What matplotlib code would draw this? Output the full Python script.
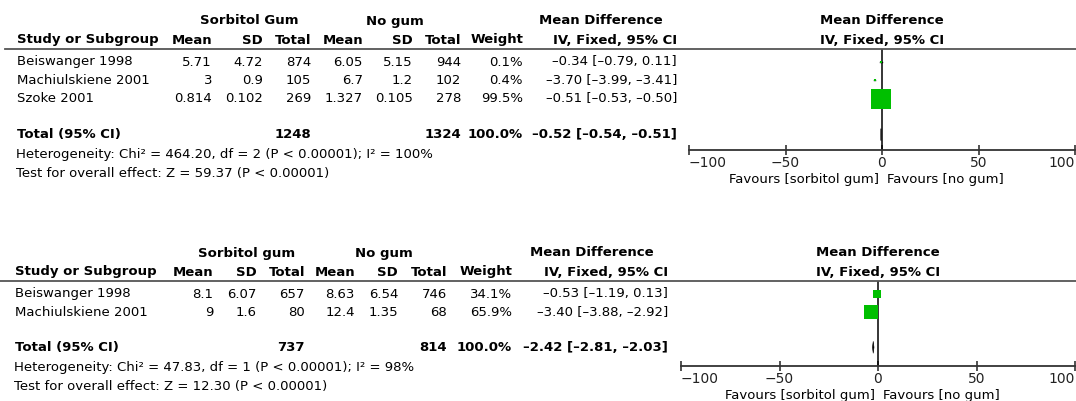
import matplotlib
matplotlib.use("Agg")
import matplotlib.pyplot as plt

# ---- data: analysis 1 ----
studies1 = ["Beiswanger 1998", "Machiulskiene 2001", "Szoke 2001"]
sorb_mean1 = ["5.71", "3", "0.814"]
sorb_sd1 = ["4.72", "0.9", "0.102"]
sorb_n1 = [874, 105, 269]
nogum_mean1 = ["6.05", "6.7", "1.327"]
nogum_sd1 = ["5.15", "1.2", "0.105"]
nogum_n1 = [944, 102, 278]
weight1 = [0.1, 0.4, 99.5]
md1 = [-0.34, -3.70, -0.51]
lo1 = [-0.79, -3.99, -0.53]
hi1 = [0.11, -3.41, -0.50]
total1 = (-0.52, -0.54, -0.51)
het1 = "Heterogeneity: Chi\u00b2 = 464.20, df = 2 (P < 0.00001); I\u00b2 = 100%"
test1 = "Test for overall effect: Z = 59.37 (P < 0.00001)"

# ---- data: analysis 2 ----
studies2 = ["Beiswanger 1998", "Machiulskiene 2001"]
sorb_mean2 = ["8.1", "9"]
sorb_sd2 = ["6.07", "1.6"]
sorb_n2 = [657, 80]
nogum_mean2 = ["8.63", "12.4"]
nogum_sd2 = ["6.54", "1.35"]
nogum_n2 = [746, 68]
weight2 = [34.1, 65.9]
md2 = [-0.53, -3.40]
lo2 = [-1.19, -3.88]
hi2 = [0.13, -2.92]
total2 = (-2.42, -2.81, -2.03)
het2 = "Heterogeneity: Chi\u00b2 = 47.83, df = 1 (P < 0.00001); I\u00b2 = 98%"
test2 = "Test for overall effect: Z = 12.30 (P < 0.00001)"

ticks = [-100, -50, 0, 50, 100]

W, H = 1076, 401
fig = plt.figure(figsize=(W / 100, H / 100), dpi=100)
FS = 9.5
GREEN = "#00bf00"


def txt(x, y, s, ha="left", bold=False):
    fig.text(x / W, 1 - y / H, s, ha=ha, va="center", fontsize=FS,
             fontweight="bold" if bold else "normal", color="black")


def fmt(v):
    return f"{v:.2f}".replace("-", "\u2013")


def ci_text(m, l, h):
    return f"{fmt(m)} [{fmt(l)}, {fmt(h)}]"


def panel(y0, cols, grp, studies, sm, ssd, sn, nm, nsd, nn, w, md, lo, hi, tot,
          het, test, line_x0, fx0, fx1, axis_y, total_gap):
    x_mean, x_sd, x_tot, x_mean2, x_sd2, x_tot2, x_w, x_ci, x_left = cols
    # headers
    txt((x_mean - 24 + x_tot) / 2 + 0, y0, grp, ha="center", bold=True)
    txt((x_mean2 - 24 + x_tot2) / 2 - 5, y0, "No gum", ha="center", bold=True)
    txt(x_ci - 76, y0, "Mean Difference", ha="center", bold=True)
    y1 = y0 + 19
    txt(x_left, y1, "Study or Subgroup", bold=True)
    for x, s in [(x_mean, "Mean"), (x_sd, "SD"), (x_tot, "Total"),
                 (x_mean2, "Mean"), (x_sd2, "SD"), (x_tot2, "Total"),
                 (x_w, "Weight"), (x_ci, "IV, Fixed, 95% CI")]:
        txt(x, y1, s, ha="right", bold=True)
    line_y = y1 + 9
    fig.add_artist(plt.Line2D([line_x0 / W, 1], [1 - line_y / H] * 2,
                              color="#555555", lw=1.3))
    pitch = 18.3
    rows_y = [line_y + 13 + i * pitch for i in range(len(studies))]
    for i, y in enumerate(rows_y):
        txt(x_left, y, studies[i])
        txt(x_mean, y, sm[i], ha="right")
        txt(x_sd, y, ssd[i], ha="right")
        txt(x_tot, y, str(sn[i]), ha="right")
        txt(x_mean2, y, nm[i], ha="right")
        txt(x_sd2, y, nsd[i], ha="right")
        txt(x_tot2, y, str(nn[i]), ha="right")
        txt(x_w, y, f"{w[i]:.1f}%", ha="right")
        txt(x_ci, y, ci_text(md[i], lo[i], hi[i]), ha="right")
    ty = rows_y[-1] + total_gap
    txt(x_left, ty, "Total (95% CI)", bold=True)
    txt(x_tot, ty, str(sum(sn)), ha="right", bold=True)
    txt(x_tot2, ty, str(sum(nn)), ha="right", bold=True)
    txt(x_w, ty, "100.0%", ha="right", bold=True)
    txt(x_ci, ty, ci_text(*tot), ha="right", bold=True)
    txt(x_left - 1, ty + 20, het)
    txt(x_left - 1, ty + 39, test)

    # forest plot axes (pixel-based y for row alignment)
    ax = fig.add_axes([fx0 / W, 1 - axis_y / H, (fx1 - fx0) / W, (axis_y - line_y) / H])
    ax.set_xlim(-100, 100)
    ax.set_ylim(axis_y, line_y)
    ax.patch.set_alpha(0)
    for s in ["top", "left", "right"]:
        ax.spines[s].set_visible(False)
    ax.spines["bottom"].set_color("#333333")
    ax.spines["bottom"].set_linewidth(1.3)
    ax.set_yticks([])
    ax.set_xticks(ticks)
    ax.tick_params(axis="x", direction="inout", length=7, width=1.1,
                   labelsize=FS + 0.5, pad=1, colors="#222222")
    labels = ax.get_xticklabels()
    labels[0].set_horizontalalignment("left")
    labels[-1].set_horizontalalignment("right")
    ax.axvline(0, color="black", lw=1.1)
    for i, y in enumerate(rows_y):
        ax.plot([lo[i], hi[i]], [y, y], color="black", lw=1)
        size = max(2.2, 21 * w[i] / 100) * 0.72
        ax.plot(md[i], y, marker="s", ms=size, color=GREEN, mec=GREEN, mew=0)
    m, l, h = tot
    ax.fill([l, m, h, m], [ty, ty - 6, ty, ty + 6], facecolor="black", lw=0.4,
            edgecolor="black")
    ax.text(-1.5, axis_y + 30, "Favours [sorbitol gum]", ha="right", va="center",
            fontsize=FS, transform=ax.transData, clip_on=False)
    ax.text(2.5, axis_y + 30, "Favours [no gum]", ha="left", va="center",
            fontsize=FS, transform=ax.transData, clip_on=False)
    xc = (fx0 + fx1) / 2
    txt(xc, y0, "Mean Difference", ha="center", bold=True)
    txt(xc, y1, "IV, Fixed, 95% CI", ha="center", bold=True)


panel(21, (212, 263, 311, 363, 413, 461, 523, 677, 17), "Sorbitol Gum",
      studies1, sorb_mean1, sorb_sd1, sorb_n1, nogum_mean1, nogum_sd1, nogum_n1,
      weight1, md1, lo1, hi1, total1, het1, test1, 5, 689, 1075, 150, 36)
panel(253, (213, 257, 305, 355, 398, 447, 512, 668, 15), "Sorbitol gum",
      studies2, sorb_mean2, sorb_sd2, sorb_n2, nogum_mean2, nogum_sd2, nogum_n2,
      weight2, md2, lo2, hi2, total2, het2, test2, 0, 681, 1075, 366, 35)

fig.savefig("out.png", dpi=100)
